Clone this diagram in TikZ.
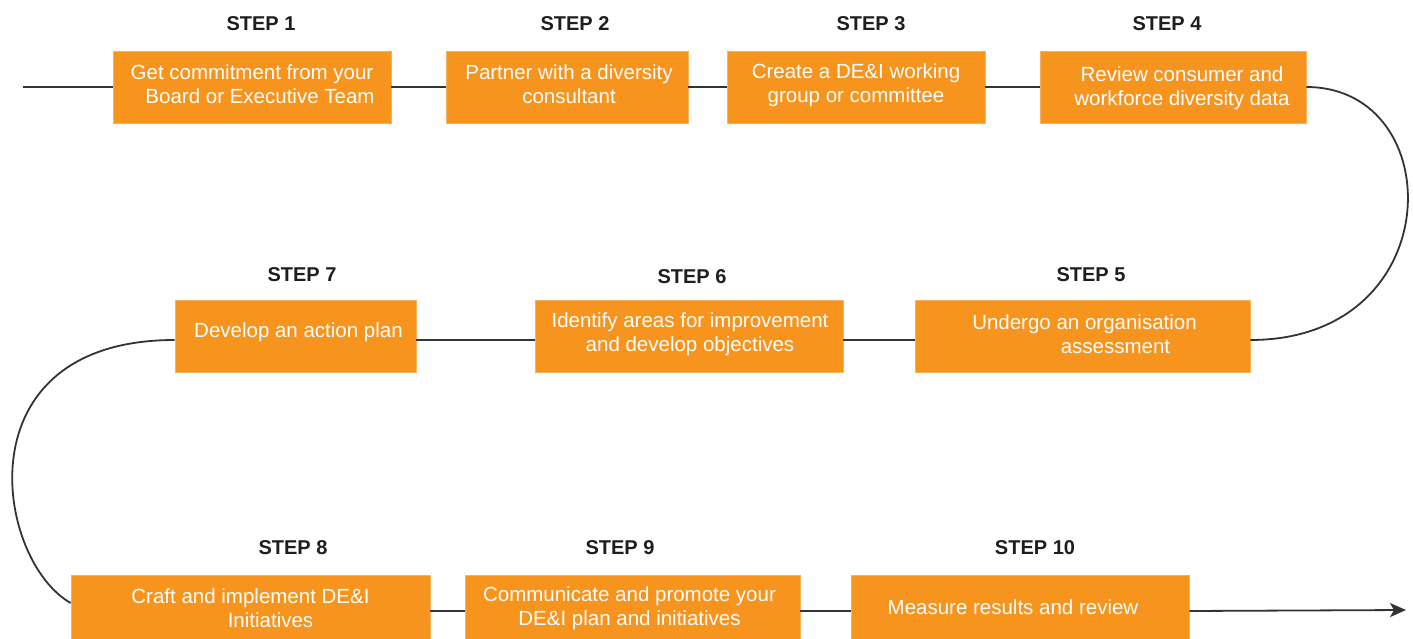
\documentclass[tikz,border=0pt]{standalone}
\usepackage{fontspec}
\setmainfont{Liberation Sans}
\usetikzlibrary{arrows.meta}
\definecolor{boxorange}{HTML}{F7941D}
\definecolor{boxedge}{HTML}{F9B060}
\definecolor{linegray}{HTML}{333333}
\definecolor{steptext}{HTML}{1E1E1E}
\tikzset{
  stepbox/.style={fill=boxorange, draw=boxedge, line width=0.6pt, inner sep=0pt,
    minimum height=72pt},
  boxtext/.style={text=white, align=center, inner sep=0pt,
    font=\fontsize{20.5}{23.5}\selectfont},
  steplabel/.style={font=\fontsize{20}{24}\selectfont\bfseries, text=steptext, inner sep=0pt},
  conn/.style={draw=linegray, line width=1.8pt}
}
\begin{document}
\begin{tikzpicture}[x=1pt,y=-1pt]
\useasboundingbox (0,0) rectangle (1413,639);
\clip (0,0) rectangle (1413,639);
% step labels
\node[steplabel] (s1) at (261,24) {STEP 1};
\node[steplabel] (s2) at (575,24) {STEP 2};
\node[steplabel] (s3) at (871,24) {STEP 3};
\node[steplabel] (s4) at (1167,24) {STEP 4};
\node[steplabel] (s7) at (302,275) {STEP 7};
\node[steplabel] (s6) at (692,277) {STEP 6};
\node[steplabel] (s5) at (1091,275) {STEP 5};
\node[steplabel] (s8) at (293,548) {STEP 8};
\node[steplabel] (s9) at (620,548) {STEP 9};
\node[steplabel] (s10) at (1035,548) {STEP 10};
% boxes
\node[stepbox, minimum width=278pt] (b1) at (252,87) {};
\node[stepbox, minimum width=242pt] (b2) at (567,87) {};
\node[stepbox, minimum width=258pt] (b3) at (856,87) {};
\node[stepbox, minimum width=266pt] (b4) at (1173,87) {};
\node[stepbox, minimum width=335pt] (b5) at (1082.5,336) {};
\node[stepbox, minimum width=308pt] (b6) at (689,336) {};
\node[stepbox, minimum width=241pt] (b7) at (295.5,336) {};
\node[stepbox, minimum width=359pt] (b8) at (250.5,611) {};
\node[stepbox, minimum width=335pt] (b9) at (632.5,611) {};
\node[stepbox, minimum width=338pt] (b10) at (1020,611) {};
% box texts
\node[boxtext] (t1) at ([yshift=3pt]b1.center) {Get commitment from your\\\hspace*{16pt}Board or Executive Team};
\node[boxtext] (t2) at ([xshift=2pt,yshift=3pt]b2.center) {Partner with a diversity\\consultant};
\node[boxtext] (t3) at ([yshift=2pt]b3.center) {Create a DE\&I working\\group or committee};
\node[boxtext] (t4) at ([xshift=9pt,yshift=-1pt]b4.center) {Review consumer and\\workforce diversity data};
\node[boxtext] (t5) at ([xshift=2pt,yshift=2pt]b5.center) {Undergo an organisation\\\hspace*{62pt}assessment};
\node[boxtext] (t6) at ([xshift=1pt,yshift=2pt]b6.center) {Identify areas for improvement\\and develop objectives};
\node[boxtext] (t7) at ([xshift=3pt,yshift=4pt]b7.center) {Develop an action plan};
\node[boxtext] (t8) at ([yshift=3pt]b8.center) {Craft and implement DE\&I\\\hspace*{40pt}Initiatives};
\node[boxtext] (t9) at ([xshift=-3pt,yshift=3pt]b9.center) {Communicate and promote your\\DE\&I plan and initiatives};
\node[boxtext] (t10) at ([xshift=-7pt,yshift=4pt]b10.center) {Measure results and review};
% connectors
\coordinate (start) at (23,87);
\coordinate (finish) at (1406,610);
\draw[conn] (start) -- (b1.west);
\draw[conn] (b1.east) -- (b2.west);
\draw[conn] (b2.east) -- (b3.west);
\draw[conn] (b3.east) -- (b4.west);
\draw[conn] (b4.east) .. controls (1450,87) and (1450,340) .. ([yshift=-4pt]b5.east);
\draw[conn] ([yshift=-4pt]b5.west) -- ([yshift=-4pt]b6.east);
\draw[conn] ([yshift=-4pt]b6.west) -- ([yshift=-4pt]b7.east);
\draw[conn] ([yshift=-4pt]b7.west) .. controls (-40,340) and (-5,560) .. ([yshift=8pt]b8.west);
\draw[conn] (b8.east) -- (b9.west);
\draw[conn] (b9.east) -- (b10.west);
\draw[conn, -{Stealth[length=16pt,width=14pt,inset=4pt]}] (b10.east) -- (finish);
\end{tikzpicture}
\end{document}
